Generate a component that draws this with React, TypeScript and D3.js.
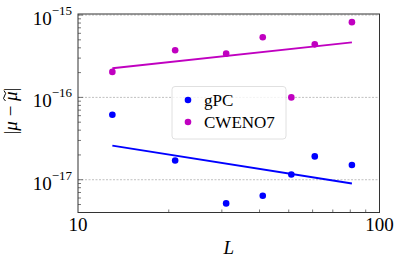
import React from "react";
import * as d3 from "d3";

const Ls = [13, 21, 31, 41, 51, 61, 81];
const gpc = [6.15e-17, 1.71e-17, 5.16e-18, 6.4e-18, 1.16e-17, 1.92e-17, 1.51e-17];
const cweno = [2.04e-16, 3.73e-16, 3.4e-16, 5.37e-16, 1.0e-16, 4.41e-16, 8.2e-16];
const gpcFit = [2.6e-17, 9.0e-18];
const cwenoFit = [2.26e-16, 4.67e-16];
const fitL = [13, 81];
const yMajor = [-15, -16, -17];
const xMajor = [10, 100];

const W = 400, H = 263;
const left = 78, right = 379.5, top = 14, bottom = 212.5;

export default function App() {
  const x = d3.scaleLog().domain([10, 100]).range([left, right]);
  const y = d3.scaleLog().domain([4.0e-18, 1.03e-15]).range([bottom, top]);
  const minorY: number[] = [];
  for (let e = -18; e <= -16; e++) for (let m = 2; m <= 9; m++) {
    const v = m * Math.pow(10, e);
    if (v >= 4.0e-18 && v <= 1.03e-15) minorY.push(v);
  }
  const minorX = [20, 30, 40, 50, 60, 70, 80, 90];
  const line = d3.line<number>().x((_, i) => x(fitL[i])).y((d) => y(d));
  const font = "Liberation Serif, Times New Roman, serif";
  const blue = "#0000ff", mag = "#c000c0";
  return (
    <svg width={W} height={H} style={{ position: "absolute", left: 0, top: 0 }} fontFamily={font}>
      <rect width={W} height={H} fill="#fff" />
      {yMajor.map((e) => (
        <line key={e} x1={left} x2={right} y1={y(Math.pow(10, e))} y2={y(Math.pow(10, e))} stroke="#b0b0b0" strokeWidth={0.8} strokeDasharray="2,1.5" />
      ))}
      {minorY.map((v, i) => (
        <line key={i} x1={left} x2={left + 3} y1={y(v)} y2={y(v)} stroke="#555" strokeWidth={0.8} />
      ))}
      {yMajor.map((e) => (
        <line key={e} x1={left} x2={left + 5} y1={y(Math.pow(10, e))} y2={y(Math.pow(10, e))} stroke="#555" strokeWidth={0.8} />
      ))}
      {minorX.map((v) => (
        <line key={v} x1={x(v)} x2={x(v)} y1={bottom} y2={bottom - 3} stroke="#555" strokeWidth={0.8} />
      ))}
      <path d={line(cwenoFit) || ""} stroke={mag} strokeWidth={1.8} fill="none" />
      <path d={line(gpcFit) || ""} stroke={blue} strokeWidth={1.8} fill="none" />
      {Ls.map((L, i) => (
        <circle key={"g" + i} cx={x(L)} cy={y(gpc[i])} r={3.3} fill={blue} />
      ))}
      {Ls.map((L, i) => (
        <circle key={"c" + i} cx={x(L)} cy={y(cweno[i])} r={3.3} fill={mag} />
      ))}
      <rect x={left} y={top} width={right - left} height={bottom - top} fill="none" stroke="#333" strokeWidth={1} />
      <g>
        <rect x={172} y={86.5} width={114} height={52.5} rx={3} fill="#fff" fillOpacity={0.8} stroke="#d8d8d8" strokeWidth={0.8} />
        <circle cx={188} cy={100} r={3.3} fill={blue} />
        <circle cx={188} cy={122} r={3.3} fill={mag} />
        <text x={204} y={106} fontSize={17}>gPC</text>
        <text x={204} y={128} fontSize={17}>CWENO7</text>
      </g>
      {yMajor.map((e) => (
        <text key={e} x={left - 6} y={y(Math.pow(10, e)) + 10} fontSize={19} textAnchor="end">
          10<tspan fontSize={13} dy={-10}>{"\u2212" + Math.abs(e)}</tspan>
        </text>
      ))}
      {xMajor.map((v) => (
        <text key={v} x={x(v)} y={231} fontSize={19} textAnchor="middle">{v}</text>
      ))}
      <text x={(left + right) / 2} y={254} fontSize={19} fontStyle="italic" textAnchor="middle">L</text>
      <g transform="translate(17,111) rotate(-90)">
        <text x={0} y={0} fontSize={19} textAnchor="middle">
          <tspan>|</tspan><tspan fontStyle="italic">μ</tspan><tspan> − </tspan><tspan fontStyle="italic">μ</tspan><tspan>|</tspan>
        </text>
        <path d="M10,-11.5 Q12.5,-15 15,-12.5 T20.5,-13" fill="none" stroke="#000" strokeWidth={1} />
      </g>
    </svg>
  );
}
